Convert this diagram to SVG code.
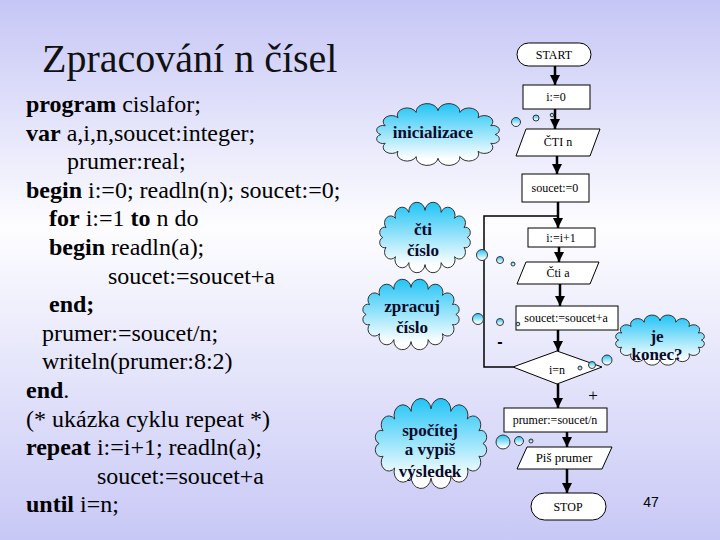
<svg xmlns="http://www.w3.org/2000/svg" width="720" height="540" viewBox="0 0 720 540">
<defs>
<linearGradient id="bg" x1="0" y1="0" x2="0" y2="1">
<stop offset="0" stop-color="#c6c6f6"/>
<stop offset="0.42" stop-color="#fdfdff"/>
<stop offset="1" stop-color="#c8c8f6"/>
</linearGradient>
<linearGradient id="cl" x1="0" y1="0" x2="0" y2="1">
<stop offset="0" stop-color="#22c4f6"/>
<stop offset="0.9" stop-color="#ffffff"/>
</linearGradient>
<path id="cloud" d="M6,30 A1,1 0 0 1 9.4,20.8 A1,1 0 0 1 19.2,12.3 A1,1 0 0 1 33.2,6.8 A1,1 0 0 1 50,5 A1,1 0 0 1 66.8,6.8 A1,1 0 0 1 80.8,12.3 A1,1 0 0 1 90.6,20.8 A1,1 0 0 1 94,30 A1,1 0 0 1 90.6,39.2 A1,1 0 0 1 80.8,47.7 A1,1 0 0 1 66.8,53.2 A1,1 0 0 1 50,55 A1,1 0 0 1 33.2,53.2 A1,1 0 0 1 19.2,47.7 A1,1 0 0 1 9.4,39.2 A1,1 0 0 1 6,30 Z" fill="url(#cl)" stroke="#333" stroke-width="1" vector-effect="non-scaling-stroke"/>
<marker id="ah" viewBox="0 0 10 10" refX="10" refY="5" markerWidth="4" markerHeight="4" orient="auto" markerUnits="strokeWidth">
<path d="M0,0 L10,5 L0,10 Z" fill="#000"/>
</marker>
<style>
.b{font-weight:bold}
.box{fill:#fff;stroke:#000;stroke-width:1}
.ft{font-size:12px;fill:#000;text-anchor:middle}
.ct{font-size:17px;font-weight:bold;fill:#0a0a2a;text-anchor:middle}
.bub{fill:url(#cl);stroke:#333;stroke-width:1}
.arr{stroke:#000;stroke-width:2.5;fill:none;marker-end:url(#ah)}
</style>
</defs>
<rect x="0" y="0" width="720" height="540" fill="url(#bg)"/>

<text x="42" y="72" font-family="Liberation Serif, serif" font-size="40" fill="#111">Zpracování n čísel</text>

<text style="font-family:'Liberation Serif',serif;font-size:24px" x="26" y="112"><tspan class="b">program</tspan> cislafor;</text>
<text style="font-family:'Liberation Serif',serif;font-size:24px" x="26" y="140.6"><tspan class="b">var</tspan> a,i,n,soucet:integer;</text>
<text style="font-family:'Liberation Serif',serif;font-size:24px" x="67" y="169.2">prumer:real;</text>
<text style="font-family:'Liberation Serif',serif;font-size:24px" x="26" y="197.8"><tspan class="b">begin</tspan> i:=0; readln(n); soucet:=0;</text>
<text style="font-family:'Liberation Serif',serif;font-size:24px" x="49" y="226.4"><tspan class="b">for</tspan> i:=1 <tspan class="b">to</tspan> n do</text>
<text style="font-family:'Liberation Serif',serif;font-size:24px" x="49" y="255"><tspan class="b">begin</tspan> readln(a);</text>
<text style="font-family:'Liberation Serif',serif;font-size:24px" x="108" y="283.6">soucet:=soucet+a</text>
<text style="font-family:'Liberation Serif',serif;font-size:24px" x="49" y="312.2"><tspan class="b">end;</tspan></text>
<text style="font-family:'Liberation Serif',serif;font-size:24px" x="42" y="340.8">prumer:=soucet/n;</text>
<text style="font-family:'Liberation Serif',serif;font-size:24px" x="42" y="369.4">writeln(prumer:8:2)</text>
<text style="font-family:'Liberation Serif',serif;font-size:24px" x="26" y="398"><tspan class="b">end</tspan>.</text>
<text style="font-family:'Liberation Serif',serif;font-size:24px" x="26" y="426.6">(* ukázka cyklu repeat *)</text>
<text style="font-family:'Liberation Serif',serif;font-size:24px" x="26" y="455.2"><tspan class="b">repeat</tspan> i:=i+1; readln(a);</text>
<text style="font-family:'Liberation Serif',serif;font-size:24px" x="97" y="483.8">soucet:=soucet+a</text>
<text style="font-family:'Liberation Serif',serif;font-size:24px" x="26" y="512.4"><tspan class="b">until</tspan> i=n;</text>

<g id="connectors">
<line class="arr" x1="555" y1="66" x2="555" y2="85"/>
<line class="arr" x1="555" y1="109" x2="555" y2="129"/>
<line class="arr" x1="557" y1="156" x2="557" y2="174"/>
<line class="arr" x1="558" y1="202" x2="558" y2="228"/>
<polyline points="513,367 484,367 484,216 558,216" fill="none" stroke="#000" stroke-width="1.5"/>
<line class="arr" x1="559" y1="247" x2="559" y2="262"/>
<line class="arr" x1="560" y1="284" x2="560" y2="306"/>
<line class="arr" x1="558" y1="330" x2="558" y2="351"/>
<line class="arr" x1="558" y1="384" x2="558" y2="408"/>
<line class="arr" x1="567" y1="432" x2="567" y2="447"/>
<line class="arr" x1="567" y1="469" x2="567" y2="493"/>
</g>

<g id="start"><rect class="box" x="517" y="43" width="74" height="23" rx="11.5"/><text class="ft" style="font-family:'Liberation Serif',serif" x="554" y="59">START</text></g>
<g id="init"><rect class="box" x="523" y="85" width="67" height="24"/><text class="ft" style="font-family:'Liberation Serif',serif" x="556" y="101">i:=0</text></g>
<g id="readn"><polygon class="box" points="526,129 600,129 590,156 516,156"/><text class="ft" style="font-family:'Liberation Serif',serif" x="558" y="146">ČTI n</text></g>
<g id="sum0"><rect class="box" x="522" y="174" width="67" height="28"/><text class="ft" style="font-family:'Liberation Serif',serif" x="555" y="192">soucet:=0</text></g>
<g id="inc"><rect class="box" x="528" y="228" width="67" height="19"/><text class="ft" style="font-family:'Liberation Serif',serif" x="561" y="242">i:=i+1</text></g>
<g id="reada"><polygon class="box" points="526,262 599,262 590,284 517,284"/><text class="ft" style="font-family:'Liberation Serif',serif" x="558" y="277">Čti a</text></g>
<g id="add"><rect class="box" x="516" y="306" width="102" height="24"/><text class="ft" style="font-family:'Liberation Serif',serif" x="566" y="322">soucet:=soucet+a</text></g>
<g id="cond"><polygon class="box" points="557,351 602,367 557,384 513,367"/><text class="ft" style="font-family:'Liberation Serif',serif" x="557" y="374">i=n</text></g>
<g id="avg"><rect class="box" x="504" y="408" width="103" height="24"/><text class="ft" style="font-family:'Liberation Serif',serif" x="555" y="424">prumer:=soucet/n</text></g>
<g id="write"><polygon class="box" points="527,447 612,447 602,469 517,469"/><text class="ft" style="font-family:'Liberation Serif',serif;font-size:13px" x="564" y="462">Piš prumer</text></g>
<g id="stop"><rect class="box" x="531" y="493" width="75" height="27" rx="13.5"/><text class="ft" style="font-family:'Liberation Serif',serif" x="568" y="511">STOP</text></g>

<text x="500" y="347" font-family="Liberation Sans, sans-serif" font-size="16" font-weight="bold" text-anchor="middle">-</text>
<text x="593" y="401" font-family="Liberation Serif, serif" font-size="17" text-anchor="middle">+</text>

<g id="cloud-init">
<use href="#cloud" transform="translate(373,106) scale(1.30,0.95)"/>
<text class="ct" style="font-family:'Liberation Serif',serif" x="433" y="138">inicializace</text>
<circle class="bub" cx="516" cy="122" r="4.5"/><circle class="bub" cx="536" cy="118" r="3"/><circle class="bub" cx="552" cy="115" r="1.8"/>
</g>
<g id="cloud-read">
<use href="#cloud" transform="translate(377,205) scale(0.96,1.083)"/>
<text class="ct" style="font-family:'Liberation Serif',serif" x="423" y="235">čti</text><text class="ct" style="font-family:'Liberation Serif',serif" x="423" y="256">číslo</text>
<circle class="bub" cx="482" cy="255" r="5.5"/><circle class="bub" cx="500" cy="260" r="3.5"/><circle class="bub" cx="513" cy="264" r="2"/>
</g>
<g id="cloud-proc">
<use href="#cloud" transform="translate(360,282) scale(1.02,1.083)"/>
<text class="ct" style="font-family:'Liberation Serif',serif" x="412" y="312">zpracuj</text><text class="ct" style="font-family:'Liberation Serif',serif" x="412" y="333">číslo</text>
<circle class="bub" cx="478" cy="319" r="5.5"/><circle class="bub" cx="500" cy="322" r="3.5"/><circle class="bub" cx="518" cy="324" r="1.8"/>
</g>
<g id="cloud-end">
<use href="#cloud" transform="translate(613,317) scale(0.94,0.77)"/>
<text class="ct" style="font-family:'Liberation Serif',serif" x="657" y="342">je</text><text class="ct" style="font-family:'Liberation Serif',serif" x="657" y="360">konec?</text>
<circle class="bub" cx="607" cy="360" r="5"/><circle class="bub" cx="592" cy="365" r="3.5"/><circle class="bub" cx="580" cy="368" r="2"/>
</g>
<g id="cloud-calc">
<use href="#cloud" transform="translate(372,402) scale(1.18,1.383)"/>
<text class="ct" style="font-family:'Liberation Serif',serif" x="430" y="436">spočítej</text><text class="ct" style="font-family:'Liberation Serif',serif" x="430" y="455">a vypiš</text><text class="ct" style="font-family:'Liberation Serif',serif" x="430" y="477">výsledek</text>
<circle class="bub" cx="503" cy="442" r="7"/><circle class="bub" cx="519" cy="441" r="4.5"/><circle class="bub" cx="531" cy="441" r="2"/>
</g>

<text x="651" y="507" font-family="Liberation Sans, sans-serif" font-size="14" text-anchor="middle">47</text>
</svg>
